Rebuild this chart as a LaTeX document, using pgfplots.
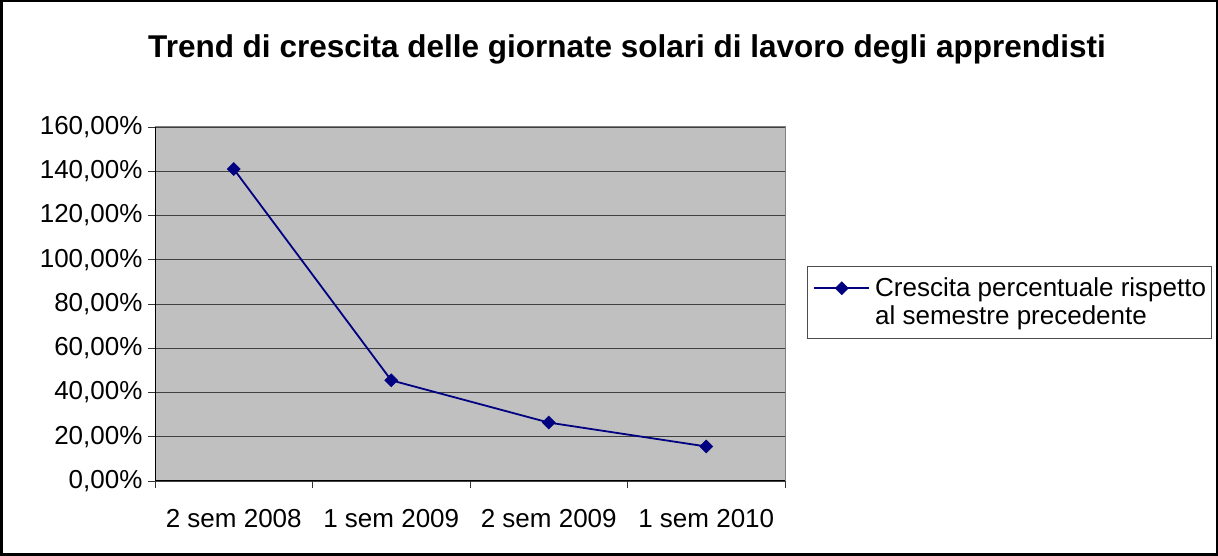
\documentclass[border=0pt]{standalone}
\usepackage{pgfplots}
\pgfplotsset{compat=1.18}
\usepackage{fontspec}
\setmainfont{Liberation Sans}
\definecolor{navy}{HTML}{000080}
\definecolor{plotbg}{HTML}{C0C0C0}
\begin{document}
\begin{tikzpicture}[x=1pt,y=1pt]
\useasboundingbox (0,0) rectangle (1218,556);
\draw[line width=2.5pt] (1.25,1.25) rectangle (1216.75,554.75);
\node[font=\fontsize{31.5}{36}\selectfont\bfseries] at (627,507) {Trend di crescita delle giornate solari di lavoro degli apprendisti};
\begin{axis}[
  at={(155pt,75pt)}, anchor=south west,
  scale only axis, width=630pt, height=354pt,
  xmin=0.5, xmax=4.5, ymin=0, ymax=160,
  axis background/.style={fill=plotbg},
  axis line style={draw=gray, line width=1pt},
  xtick={1,2,3,4},
  xticklabels={2 sem 2008,1 sem 2009,2 sem 2009,1 sem 2010},
  major x tick style={draw=none},
  minor xtick={0.5,1.5,2.5,3.5,4.5},
  minor x tick style={draw=black!80, line width=0.8pt},
  minor tick length=7pt,
  ytick={0,20,...,160},
  yticklabels={{0,00\%},{20,00\%},{40,00\%},{60,00\%},{80,00\%},{100,00\%},{120,00\%},{140,00\%},{160,00\%}},
  y tick style={draw=black!80, line width=0.8pt},
  major tick length=7pt,
  tick align=outside, tick pos=left,
  ymajorgrids, grid style={draw=black!75, line width=0.8pt},
  tick label style={font=\fontsize{26}{30}\selectfont},
  xticklabel style={yshift=-18pt},
  yticklabel style={xshift=-2pt},
  legend style={at={(1.0349,0.505)}, anchor=west, draw=black!70, line width=0.8pt,
    font=\fontsize{26}{28}\selectfont, cells={align=left}, inner xsep=3pt, inner ysep=10pt},
  legend cell align=left,
  legend image code/.code={\path (-3pt,0pt) (58pt,0pt);\draw[mark repeat=2,mark phase=2,#1,yshift=14pt] plot coordinates {(0pt,0pt) (27.5pt,0pt) (55pt,0pt)};},
]
\addplot[color=navy, line width=1.8pt, mark=square*, mark size=4.6pt, mark options={rotate=45, fill=navy, line width=0.5pt}]
  coordinates {(1,141.0) (2,45.5) (3,26.4) (4,15.6)};
\addlegendentry{Crescita percentuale rispetto\\al semestre precedente}
\draw[black, line width=1pt] (rel axis cs:0,0) -- (rel axis cs:0,1);
\draw[black, line width=1pt] (rel axis cs:0,0) -- (rel axis cs:1,0);
\end{axis}
\end{tikzpicture}
\end{document}
